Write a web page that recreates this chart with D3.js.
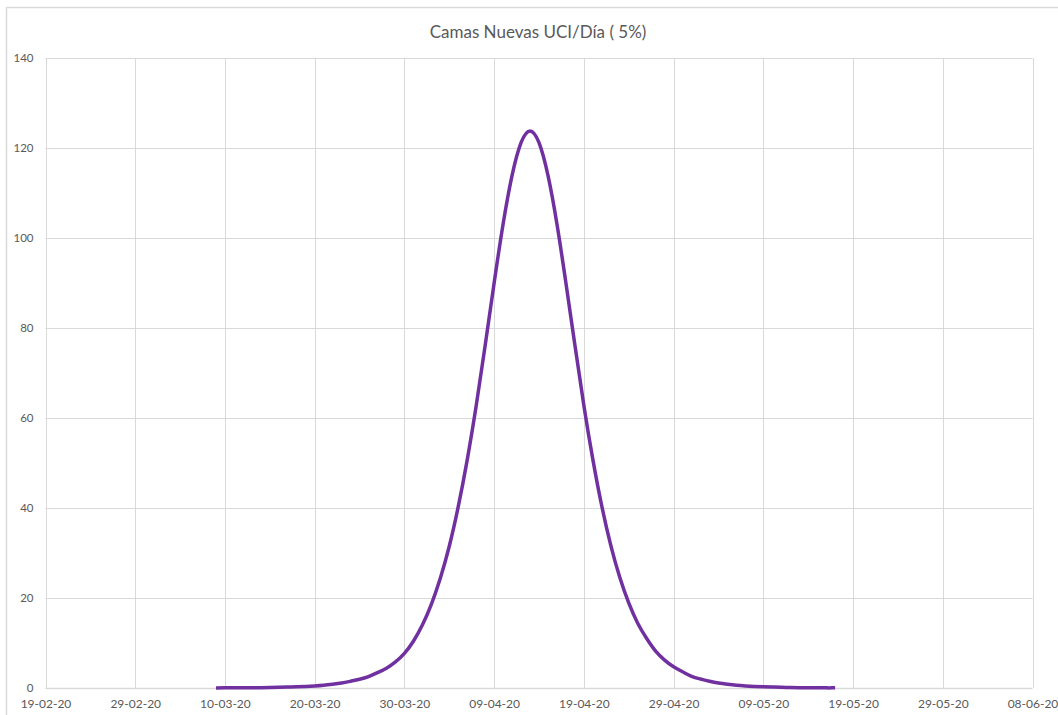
<!DOCTYPE html>
<html lang="es">
  <head>
    <meta charset="UTF-8">
    <title>Camas Nuevas UCI/Día</title>
    <style>
      html, body {
        margin: 0;
        padding: 0;
        background: #fff;
      }

      #chart {
        width: 1058px;
        height: 715px;
      }

      svg text {
        font-family: Lato, 'Open Sans', sans-serif;
        fill: #595959;
      }
    </style>
  </head>
  <body>
    <div id="chart"></div>

    <script src="https://cdn.jsdelivr.net/npm/d3@7"></script>
    <script>
      const title = 'Camas Nuevas UCI/Día ( 5%)';

      // eje X: una marca cada 10 días
      const xTickLabels = [
        '19-02-20', '29-02-20', '10-03-20', '20-03-20', '30-03-20', '09-04-20',
        '19-04-20', '29-04-20', '09-05-20', '19-05-20', '29-05-20', '08-06-20'
      ];
      const yTicks = [0, 20, 40, 60, 80, 100, 120, 140];

      // serie diaria, desde el 09-03-20 hasta el 17-05-20
      const firstDay = '09-03-20';
      const camas = [
        0.02, 0.03, 0.03, 0.05, 0.06, 0.08, 0.11, 0.15, 0.2, 0.26,
        0.35, 0.47, 0.63, 0.84, 1.1, 1.5, 1.95, 2.55, 3.4, 4.4,
        5.8, 7.7, 10.4, 14.0, 18.6, 24.4, 31.5, 40.3, 50.7, 62.7,
        76.1, 90.0, 103.1, 113.9, 121.2, 123.8, 121.2, 113.9, 103.1, 90.0,
        76.2, 62.8, 50.8, 40.4, 31.7, 24.6, 18.9, 14.4, 11.0, 8.2,
        6.2, 4.7, 3.6, 2.6, 2.0, 1.5, 1.1, 0.84, 0.63, 0.47,
        0.35, 0.26, 0.2, 0.15, 0.11, 0.08, 0.06, 0.05, 0.03, 0.03
      ];

      const width = 1058;
      const height = 715;
      const margin = { top: 58, right: 25.5, bottom: 27, left: 45.5 };

      const parse = d3.utcParse('%d-%m-%y');
      const tickDates = xTickLabels.map(parse);
      const start = parse(firstDay);
      const data = camas.map((v, i) => ({ date: d3.utcDay.offset(start, i), value: v }));

      const x = d3.scaleUtc()
        .domain([tickDates[0], tickDates[tickDates.length - 1]])
        .range([margin.left, width - margin.right]);

      const y = d3.scaleLinear()
        .domain([0, 140])
        .range([height - margin.bottom, margin.top]);

      const svg = d3.select('#chart').append('svg')
        .attr('width', width)
        .attr('height', height);

      // marco del gráfico (recortado en la captura)
      svg.append('path')
        .attr('d', `M6.5,${height} V7.5 H${width}`)
        .attr('fill', 'none')
        .attr('stroke', '#d9d9d9')
        .attr('stroke-width', 1.5);

      svg.append('text')
        .attr('x', 538)
        .attr('y', 38)
        .attr('text-anchor', 'middle')
        .style('font-size', '17px')
        .text(title);

      // rejilla horizontal
      svg.append('g')
        .selectAll('line')
        .data(yTicks)
        .join('line')
        .attr('x1', margin.left)
        .attr('x2', width - margin.right)
        .attr('y1', d => Math.round(y(d)) + 0.5)
        .attr('y2', d => Math.round(y(d)) + 0.5)
        .attr('stroke', '#d9d9d9')
        .attr('stroke-width', d => d === 0 ? 1.5 : 1);

      // rejilla vertical
      svg.append('g')
        .selectAll('line')
        .data(tickDates)
        .join('line')
        .attr('x1', d => Math.round(x(d)) + 0.5)
        .attr('x2', d => Math.round(x(d)) + 0.5)
        .attr('y1', y(140))
        .attr('y2', y(0))
        .attr('stroke', '#d9d9d9')
        .attr('stroke-width', 1);

      const yAxis = svg.append('g')
        .attr('transform', `translate(${margin.left},0)`)
        .call(d3.axisLeft(y).tickValues(yTicks).tickSize(0).tickPadding(12));
      yAxis.select('.domain').remove();
      yAxis.selectAll('text').style('font-size', '11.5px').attr('fill', '#595959');

      const xAxis = svg.append('g')
        .attr('transform', `translate(0,${y(0)})`)
        .call(d3.axisBottom(x)
          .tickValues(tickDates)
          .tickFormat((d, i) => xTickLabels[i])
          .tickSize(0)
          .tickPadding(11));
      xAxis.select('.domain').remove();
      xAxis.selectAll('text').style('font-size', '12px').attr('fill', '#595959');

      const line = d3.line()
        .x(d => x(d.date))
        .y(d => y(d.value))
        .curve(d3.curveNatural);

      svg.append('path')
        .datum(data)
        .attr('d', line)
        .attr('fill', 'none')
        .attr('stroke', '#7030a0')
        .attr('stroke-width', 3.5)
        .attr('stroke-linejoin', 'round');
    </script>
  </body>
</html>
